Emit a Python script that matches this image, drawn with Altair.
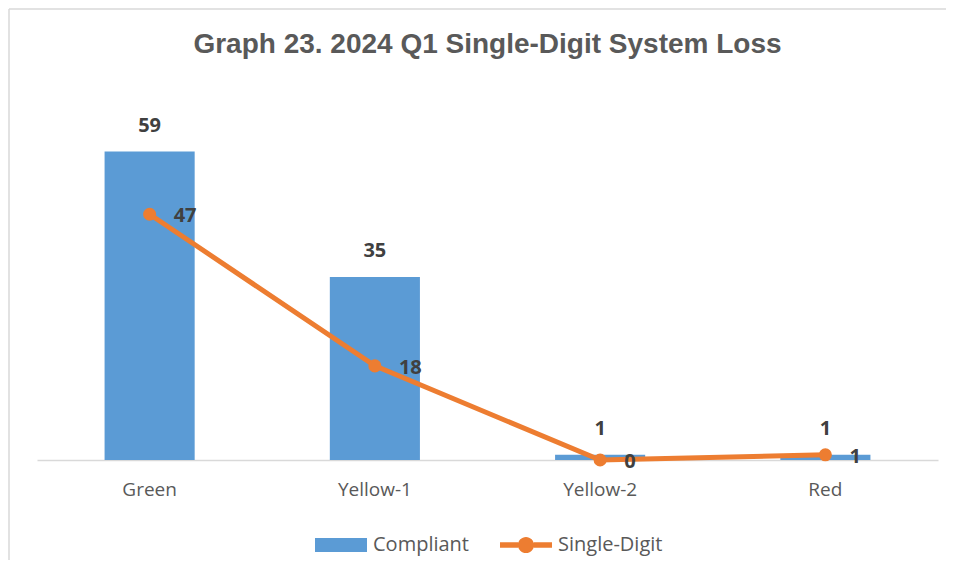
import altair as alt
import pandas as pd

categories = ["Green", "Yellow-1", "Yellow-2", "Red"]
compliant = [59, 35, 1, 1]
single_digit = [47, 18, 0, 1]

BLUE = "#5B9BD5"
ORANGE = "#ED7D31"
GRAY_TXT = "#595959"
LABEL_TXT = "#404040"

bar_df = pd.DataFrame({"category": categories, "value": compliant, "series": ["Compliant"] * 4})
line_df = pd.DataFrame({"category": categories, "value": single_digit, "series": ["Single-Digit"] * 4})
frame_df = pd.DataFrame({"k": [0]})

x = alt.X(
    "category:N",
    sort=categories,
    scale=alt.Scale(paddingInner=0.6, paddingOuter=0.3),
    axis=alt.Axis(
        title=None, labelAngle=0, ticks=False, domainColor="#D9D9D9", domainWidth=1.5,
        labelFont="Open Sans", labelFontSize=19, labelColor=GRAY_TXT, labelPadding=20,
    ),
)
y = alt.Y("value:Q", scale=alt.Scale(domain=[0, 70]), axis=None)

rect_path = "M-1,-0.27H1V0.27H-1Z"
line_path = ("M-1,-0.11H-0.3V0.11H-1Z M0.3,-0.11H1V0.11H0.3Z "
             "M-0.31,0A0.31,0.31,0,1,1,0.31,0A0.31,0.31,0,1,1,-0.31,0Z")

leg_common = dict(
    orient="none", title=None, symbolSize=2704, symbolStrokeWidth=0,
    labelFont="Open Sans", labelFontSize=20, labelColor=GRAY_TXT, labelOffset=6,
    padding=0, direction="horizontal",
)

bars = alt.Chart(bar_df).mark_bar().encode(
    x=x, y=y,
    fill=alt.Fill(
        "series:N",
        scale=alt.Scale(domain=["Compliant"], range=[BLUE]),
        legend=alt.Legend(symbolType=rect_path, legendX=278, legendY=425, **leg_common),
    ),
)

bar_labels = alt.Chart(bar_df).mark_text(
    dy=-26, baseline="middle", align="center", font="Open Sans", fontSize=20,
    fontWeight="bold", color=LABEL_TXT,
).encode(x=x, y=y, text=alt.Text("value:Q"))

line = alt.Chart(line_df).mark_line(strokeWidth=5).encode(
    x=x, y=y,
    stroke=alt.Stroke(
        "series:N",
        scale=alt.Scale(domain=["Single-Digit"], range=[ORANGE]),
        legend=alt.Legend(
            symbolType=line_path, legendX=463, legendY=425, symbolFillColor=ORANGE,
            **leg_common,
        ),
    ),
)

points = alt.Chart(line_df).mark_circle(size=170, color=ORANGE, opacity=1).encode(x=x, y=y)

line_labels = alt.Chart(line_df).mark_text(
    dx=24, dy=2, baseline="middle", align="left", font="Open Sans", fontSize=20,
    fontWeight="bold", color=LABEL_TXT,
).encode(x=x, y=y, text=alt.Text("value:Q"))

frame_v = alt.Chart(frame_df).mark_rule(color="#D9D9D9", strokeWidth=1.5).encode(
    x=alt.value(-28), y=alt.value(-85), y2=alt.value(480)
)
frame_h = alt.Chart(frame_df).mark_rule(color="#D9D9D9", strokeWidth=1.5).encode(
    x=alt.value(-28), x2=alt.value(915), y=alt.value(-85)
)

chart = alt.layer(frame_v, frame_h, bars, bar_labels, line, points, line_labels).properties(
    width=901,
    height=366,
    title=alt.TitleParams(
        "Graph 23. 2024 Q1 Single-Digit System Loss",
        font="Liberation Sans", fontSize=28, fontWeight="bold", color=GRAY_TXT,
        anchor="middle", baseline="alphabetic", offset=0, dy=73, frame="group",
    ),
    autosize=alt.AutoSizeParams(type="none"),
    padding={"left": 29, "top": 86, "right": 8, "bottom": 100},
    background="white",
).configure_view(stroke=None).resolve_scale(fill="independent", stroke="independent")

chart.save("out.html", embed_options={"renderer": "svg", "actions": False})
